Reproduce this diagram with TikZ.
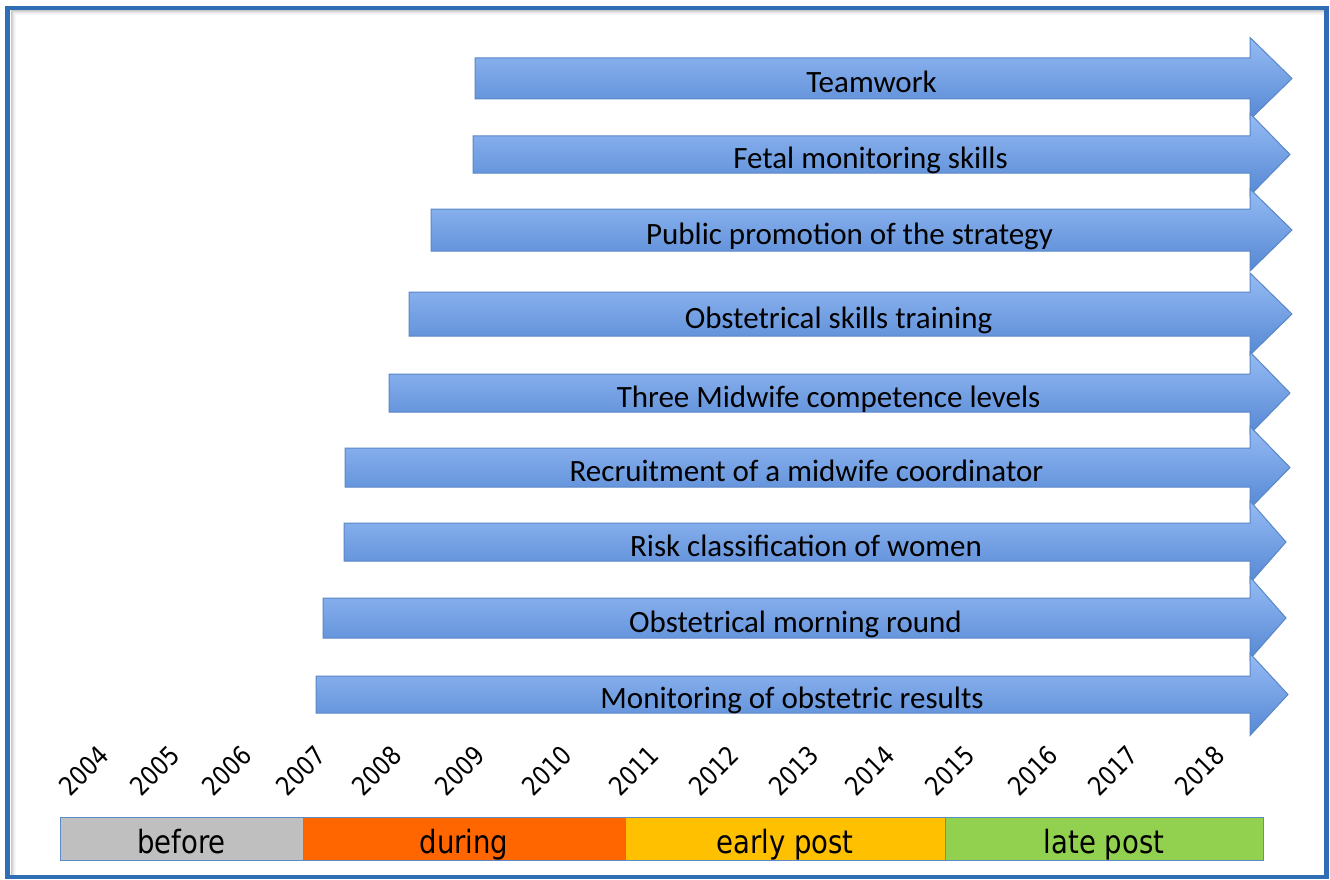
\documentclass[tikz,border=0pt]{standalone}
\usepackage{fontspec}
\newfontfamily\carlito{Carlito}
\newfontfamily\narrowsans{DejaVu Sans}[FakeStretch=0.86]
\usetikzlibrary{calc}

\definecolor{frameblue}{HTML}{2F6DB5}
\definecolor{arrowtop}{HTML}{95BBF4}
\definecolor{arrowbot}{HTML}{5688D4}
\definecolor{arrowedge}{HTML}{5A87C8}
\definecolor{phaseedge}{HTML}{5B8BC9}
\definecolor{phasegrey}{HTML}{BFBFBF}
\definecolor{phaseorange}{HTML}{FF6600}
\definecolor{phaseyellow}{HTML}{FFC000}
\definecolor{phasegreen}{HTML}{92D050}

\tikzset{
  arrowbody/.style={draw=arrowedge, line width=1pt, line join=miter,
    top color=arrowtop, bottom color=arrowbot},
  arrowtext/.style={anchor=base, inner sep=0pt,
    font=\carlito\fontsize{31}{37}\selectfont},
  yearlbl/.style={rotate=45, inner sep=0pt,
    font=\narrowsans\fontsize{26}{31}\selectfont},
  phase/.style={draw=phaseedge, line width=1pt, inner sep=0pt,
    minimum height=43pt, text height=29pt, text depth=0pt,
    font=\narrowsans\fontsize{32}{38}\selectfont},
  frameline/.style={draw=frameblue, line width=4.5pt},
}

% one timeline bar: name, left x, body top, body bottom, tip x, label
\newcommand{\tlarrow}[6]{%
  \pgfmathsetmacro{\mc}{(#3+#4)/2}%
  \path[arrowbody] (#2,#3) -- (1250,#3) -- (1250,\mc-41) -- (#5,\mc)
    -- (1250,\mc+41) -- (1250,#4) -- (#2,#4) -- cycle;
  \node[arrowtext] (#1) at ({(#2+1268)/2},\mc+14) {#6};
}

\begin{document}
\begin{tikzpicture}[x=1pt,y=-1pt]
\useasboundingbox (0,0) rectangle (1330,880);
\fill[white] (0,0) rectangle (1330,880);

% soft inner shadow along the frame
\foreach \i/\o in {1/0.22,2/0.16,3/0.10,4/0.06,5/0.03}{
  \draw[black, opacity=\o, line width=1pt]
    (10+\i,875) -- (10+\i,10+\i) -- (1324,10+\i);
}
\draw[frameline] (7.5,8) rectangle (1326.5,877);

% interventions
\tlarrow{teamwork}{475}{58}{99}{1292}{Teamwork}
\tlarrow{fetal}{473}{136}{173}{1290}{Fetal monitoring skills}
\tlarrow{promo}{431}{209}{251}{1292}{Public promotion of the strategy}
\tlarrow{skills}{409}{292}{336}{1292}{Obstetrical skills training}
\tlarrow{levels}{389}{374}{412}{1290}{Three Midwife competence levels}
\tlarrow{coord}{345}{448}{487}{1290}{Recruitment of a midwife coordinator}
\tlarrow{risk}{344}{523}{561}{1286}{Risk classification of women}
\tlarrow{round}{323}{598}{638}{1286}{Obstetrical morning round}
\tlarrow{results}{316}{676}{713}{1288}{Monitoring of obstetric results}

% year axis
\foreach \yr/\xx in {2004/84,2005/155,2006/227,2007/301,2008/377,2009/460,
  2010/547,2011/634,2012/714,2013/794,2014/870,2015/950,2016/1033,
  2017/1113,2018/1200}{
  \node[yearlbl] (y\yr) at (\xx,771) {\yr};
}

% study periods
\node[phase, fill=phasegrey, minimum width=243pt] (before) at (181.5,838.5) {before};
\node[phase, fill=phaseorange, minimum width=322pt] (during) at (464,838.5) {during};
\node[phase, fill=phaseyellow, minimum width=320pt] (early) at (785,838.5) {early post};
\node[phase, fill=phasegreen, minimum width=318pt] (late) at (1104,838.5) {late post};
\end{tikzpicture}
\end{document}
